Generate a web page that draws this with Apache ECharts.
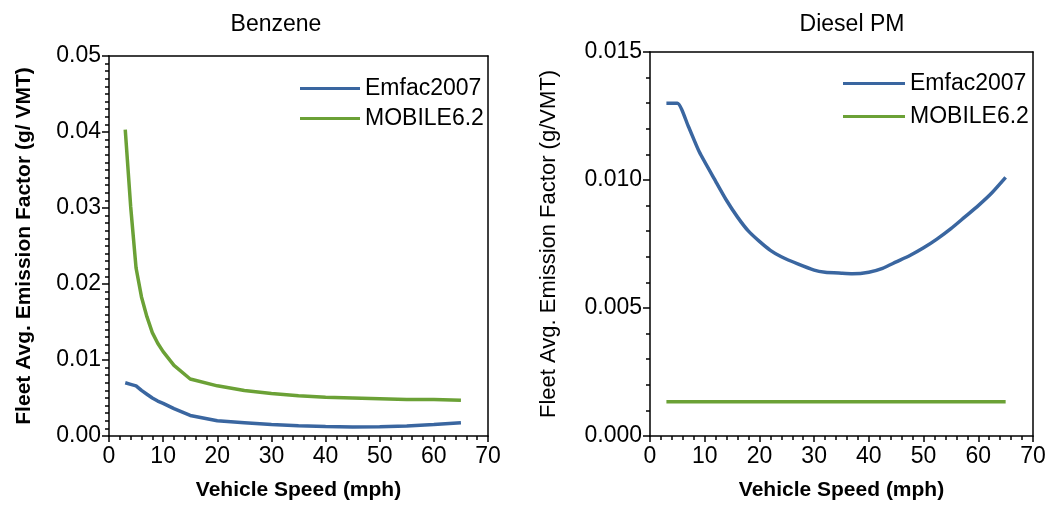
<!DOCTYPE html>
<html>
<head>
<meta charset="utf-8">
<script src="https://cdn.jsdelivr.net/npm/echarts@6/dist/echarts.min.js"></script>
<style>
  html, body { margin: 0; padding: 0; background: #fff; }
  #chart { width: 1051px; height: 508px; }
</style>
</head>
<body>
<div id="chart"></div>
<script>
// benzene panel
var benzeneSpeeds = [3, 4, 5, 6, 7, 8, 9, 10, 12, 15, 20, 25, 30, 35, 40, 45, 50, 55, 60, 65];
var benzeneEmfac = [0.0070, 0.0068, 0.0066, 0.0060, 0.0055, 0.0050, 0.0046, 0.0043, 0.0036, 0.0027,
    0.0020, 0.00175, 0.0015, 0.00135, 0.00125, 0.0012, 0.00122, 0.0013, 0.0015, 0.00175];
var benzeneMobile = [0.0403, 0.0302, 0.0221, 0.0183, 0.0157, 0.0136, 0.0122, 0.0111, 0.0093, 0.0075,
    0.0066, 0.0060, 0.0056, 0.0053, 0.0051, 0.0050, 0.0049, 0.0048, 0.0048, 0.0047];

// diesel PM panel
var dieselSpeeds = [3, 5, 7, 9, 12, 14, 16, 18, 20, 22, 24, 27, 30, 32, 35, 37, 40, 42.5, 45, 47.5,
    50, 52.5, 55, 57.5, 60, 62.5, 65];
var dieselEmfac = [0.0130, 0.0130, 0.0121, 0.0111, 0.00995, 0.0092, 0.00855, 0.0080, 0.0076, 0.00725,
    0.0070, 0.00672, 0.00648, 0.0064, 0.00636, 0.00634, 0.0064, 0.00655, 0.0068, 0.00705,
    0.00735, 0.0077, 0.0081, 0.00855, 0.0090, 0.0095, 0.0101];
var dieselMobileSpeeds = [3, 65];
var dieselMobile = [0.00134, 0.00134];

var seriesNames = ['Emfac2007', 'MOBILE6.2'];
var titles = ['Benzene', 'Diesel PM'];
var blue = '#3a66a0';
var green = '#6ba136';

function pairs(xs, ys) {
    return xs.map(function (x, i) { return [x, ys[i]]; });
}

var font = 'Liberation Sans, Arial, sans-serif';
var axisColor = '#000';

function xAxisFor(idx) {
    return {
        type: 'value', gridIndex: idx, min: 0, max: 70, interval: 10,
        name: 'Vehicle Speed (mph)', nameLocation: 'middle', nameGap: 44,
        nameTextStyle: { fontFamily: font, fontSize: 21, fontWeight: 'bold', color: '#000' },
        axisLine: { show: true, lineStyle: { color: axisColor, width: 1.5 } },
        axisTick: { show: true, length: 6, lineStyle: { color: axisColor, width: 1.5 } },
        minorTick: { show: true, splitNumber: 5, length: 4, lineStyle: { color: axisColor, width: 1.5 } },
        axisLabel: { fontFamily: font, fontSize: 23, color: '#000', margin: 9 },
        splitLine: { show: false }
    };
}

function yAxisFor(idx, max, step, digits, bold, gap) {
    return {
        type: 'value', gridIndex: idx, min: 0, max: max, interval: step,
        name: idx === 0 ? 'Fleet Avg. Emission Factor (g/ VMT)' : 'Fleet Avg. Emission Factor (g/VMT)',
        nameLocation: 'middle', nameGap: gap, nameRotate: 90,
        nameTextStyle: { fontFamily: font, fontSize: bold ? 21 : 22, fontWeight: bold ? 'bold' : 'normal', color: '#000' },
        axisLine: { show: true, lineStyle: { color: axisColor, width: 1.5 } },
        axisTick: { show: true, length: 7, lineStyle: { color: axisColor, width: 1.5 } },
        minorTick: { show: true, splitNumber: idx === 0 ? 10 : 5, length: 4, lineStyle: { color: axisColor, width: 1.5 } },
        axisLabel: {
            fontFamily: font, fontSize: 23, color: '#000', margin: 8,
            formatter: function (v) { return v.toFixed(digits); }
        },
        splitLine: { show: false }
    };
}

// plain frame lines on the top and right of each panel
function frameAxis(kind, idx, max) {
    return {
        type: 'value', gridIndex: idx, min: 0, max: max,
        position: kind === 'x' ? 'top' : 'right',
        axisLine: { show: true, onZero: false, lineStyle: { color: axisColor, width: 1.5 } },
        axisTick: { show: false }, axisLabel: { show: false }, splitLine: { show: false }
    };
}

function lineSeries(name, idx, data, color, smooth) {
    return {
        name: name, type: 'line', xAxisIndex: idx, yAxisIndex: idx,
        data: data, showSymbol: false, symbol: 'none', smooth: smooth || false,
        lineStyle: { color: color, width: 3.5 }, itemStyle: { color: color },
        emphasis: { disabled: true }
    };
}

var chart = echarts.init(document.getElementById('chart'));

var option = {
    backgroundColor: '#fff',
    animation: false,
    title: [
        { text: titles[0], left: 271, top: 8, textAlign: 'center',
          textStyle: { fontFamily: font, fontSize: 23, fontWeight: 'normal', color: '#000' } },
        { text: titles[1], left: 847, top: 8, textAlign: 'center',
          textStyle: { fontFamily: font, fontSize: 23, fontWeight: 'normal', color: '#000' } }
    ],
    legend: [
        { left: 295, top: 72, orient: 'vertical', itemWidth: 60, itemHeight: 3, itemGap: 7, icon: 'rect',
          data: [{ name: seriesNames[0] }, { name: seriesNames[1] }],
          textStyle: { fontFamily: font, fontSize: 23, color: '#000' } },
        { left: 838, top: 67, orient: 'vertical', itemWidth: 62, itemHeight: 3, itemGap: 10, icon: 'rect',
          data: [{ name: seriesNames[0] }, { name: seriesNames[1] }],
          textStyle: { fontFamily: font, fontSize: 23, color: '#000' } }
    ],
    grid: [
        { left: 109, right: 563, top: 56, bottom: 72 },
        { left: 650, right: 18, top: 52, bottom: 72 }
    ],
    xAxis: [xAxisFor(0), xAxisFor(1), frameAxis('x', 0, 70), frameAxis('x', 1, 70)],
    yAxis: [
        yAxisFor(0, 0.05, 0.01, 2, true, 74),
        yAxisFor(1, 0.015, 0.005, 3, false, 90),
        frameAxis('y', 0, 0.05),
        frameAxis('y', 1, 0.015)
    ],
    series: [
        lineSeries(seriesNames[0], 0, pairs(benzeneSpeeds, benzeneEmfac), blue),
        lineSeries(seriesNames[1], 0, pairs(benzeneSpeeds, benzeneMobile), green),
        lineSeries(seriesNames[0], 1, pairs(dieselSpeeds, dieselEmfac), blue, 0.2),
        lineSeries(seriesNames[1], 1, pairs(dieselMobileSpeeds, dieselMobile), green)
    ]
};
chart.setOption(option);
</script>
</body>
</html>
